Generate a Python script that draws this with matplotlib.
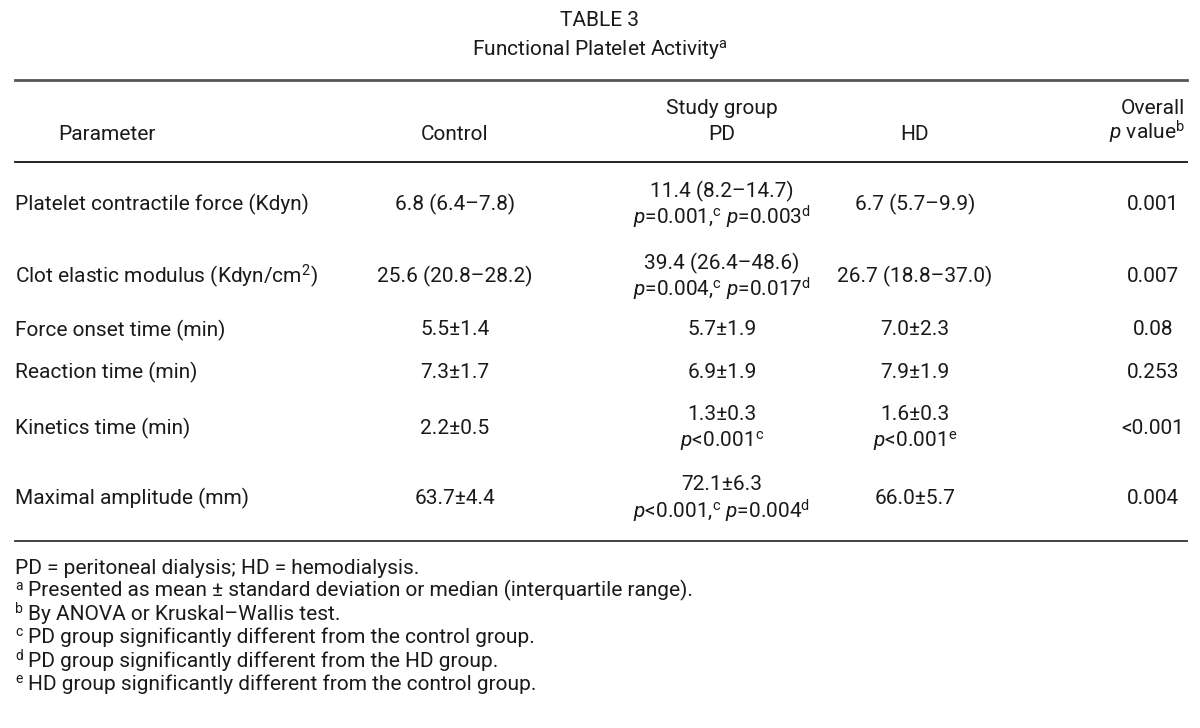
import matplotlib
matplotlib.use("Agg")
import matplotlib.pyplot as plt
from matplotlib.lines import Line2D
from matplotlib import font_manager

entries = font_manager.fontManager.ttflist
FONT = "Roboto" if any(e.name == "Roboto" for e in entries) else "DejaVu Sans"
FS = 15.0

plt.rcParams['font.family'] = [FONT, 'DejaVu Sans']
plt.rcParams['mathtext.fontset'] = 'custom'
plt.rcParams['mathtext.rm'] = FONT
plt.rcParams['mathtext.it'] = f"{FONT}:italic"
plt.rcParams['mathtext.bf'] = f"{FONT}:bold"

# ---- data ----
title = "TABLE 3"
subtitle = r"Functional Platelet Activity$^{\mathrm{a}}$"
col_headers = ["Parameter", "Control", "Study group", "PD", "HD", "Overall", r"$p$ value$^{\mathrm{b}}$"]
parameters = ["Platelet contractile force (Kdyn)",
              r"Clot elastic modulus (Kdyn/cm$^{\mathrm{2}}$)",
              "Force onset time (min)",
              "Reaction time (min)",
              "Kinetics time (min)",
              "Maximal amplitude (mm)"]
control = ["6.8 (6.4–7.8)", "25.6 (20.8–28.2)", "5.5±1.4", "7.3±1.7", "2.2±0.5", "63.7±4.4"]
pd_vals = ["11.4 (8.2–14.7)", "39.4 (26.4–48.6)", "5.7±1.9", "6.9±1.9", "1.3±0.3", "72.1±6.3"]
pd_p = [r"$p$=0.001,$^{\mathrm{c}}$ $p$=0.003$^{\mathrm{d}}$",
        r"$p$=0.004,$^{\mathrm{c}}$ $p$=0.017$^{\mathrm{d}}$",
        "", "",
        r"$p$<0.001$^{\mathrm{c}}$",
        r"$p$<0.001,$^{\mathrm{c}}$ $p$=0.004$^{\mathrm{d}}$"]
hd_vals = ["6.7 (5.7–9.9)", "26.7 (18.8–37.0)", "7.0±2.3", "7.9±1.9", "1.6±0.3", "66.0±5.7"]
hd_p = ["", "", "", "", r"$p$<0.001$^{\mathrm{e}}$", ""]
overall_p = ["0.001", "0.007", "0.08", "0.253", "<0.001", "0.004"]
footnote_marks = ["", "a", "b", "c", "d", "e"]
footnote_texts = ["PD = peritoneal dialysis; HD = hemodialysis.",
                  "Presented as mean ± standard deviation or median (interquartile range).",
                  "By ANOVA or Kruskal–Wallis test.",
                  "PD group significantly different from the control group.",
                  "PD group significantly different from the HD group.",
                  "HD group significantly different from the control group."]

# ---- layout (pixels) ----
W, H = 1200, 728
fig = plt.figure(figsize=(W / 100, H / 100), dpi=100)

def T(x, y, s, ha='left', va='center', fs=FS):
    fig.text(x / W, 1 - y / H, s, ha=ha, va=va, fontsize=fs, color='#1a1a1a')

def hline(y, lw, color):
    fig.add_artist(Line2D([15 / W, 1187 / W], [1 - y / H, 1 - y / H], lw=lw, color=color,
                          transform=fig.transFigure))

T(600, 21, title, ha='center')
T(600, 50, subtitle, ha='center')
hline(80, 2.0, '#555555')

col_x = [107, 455, 722, 915, 1153]
T(col_x[0], 134, col_headers[0], ha='center')
T(col_x[1], 134, col_headers[1], ha='center')
T(col_x[2], 108, col_headers[2], ha='center')
T(col_x[2], 134, col_headers[3], ha='center')
T(col_x[3], 134, col_headers[4], ha='center')
T(1185, 108, col_headers[5], ha='right')
T(1185, 132, col_headers[6], ha='right')
hline(162, 1.3, '#111111')

row_y = [204, 276, 330, 372, 428, 498]
for i, y in enumerate(row_y):
    T(15, y, parameters[i])
    T(col_x[1], y, control[i], ha='center')
    if pd_p[i]:
        T(col_x[2], y - 13, pd_vals[i], ha='center')
        T(col_x[2], y + 13, pd_p[i], ha='center')
    else:
        T(col_x[2], y, pd_vals[i], ha='center')
    if hd_p[i]:
        T(col_x[3], y - 13, hd_vals[i], ha='center')
        T(col_x[3], y + 13, hd_p[i], ha='center')
    else:
        T(col_x[3], y, hd_vals[i], ha='center')
    T(col_x[4], y, overall_p[i], ha='center')

hline(541, 1.3, '#333333')

for j, (m, s) in enumerate(zip(footnote_marks, footnote_texts)):
    base = 573.5 + 23.3 * j
    if m:
        T(15.5, base - 7, m, va='baseline', fs=10)
        T(28, base, s, va='baseline')
    else:
        T(15, base, s, va='baseline')

fig.savefig("out.png", dpi=100, facecolor='white')
